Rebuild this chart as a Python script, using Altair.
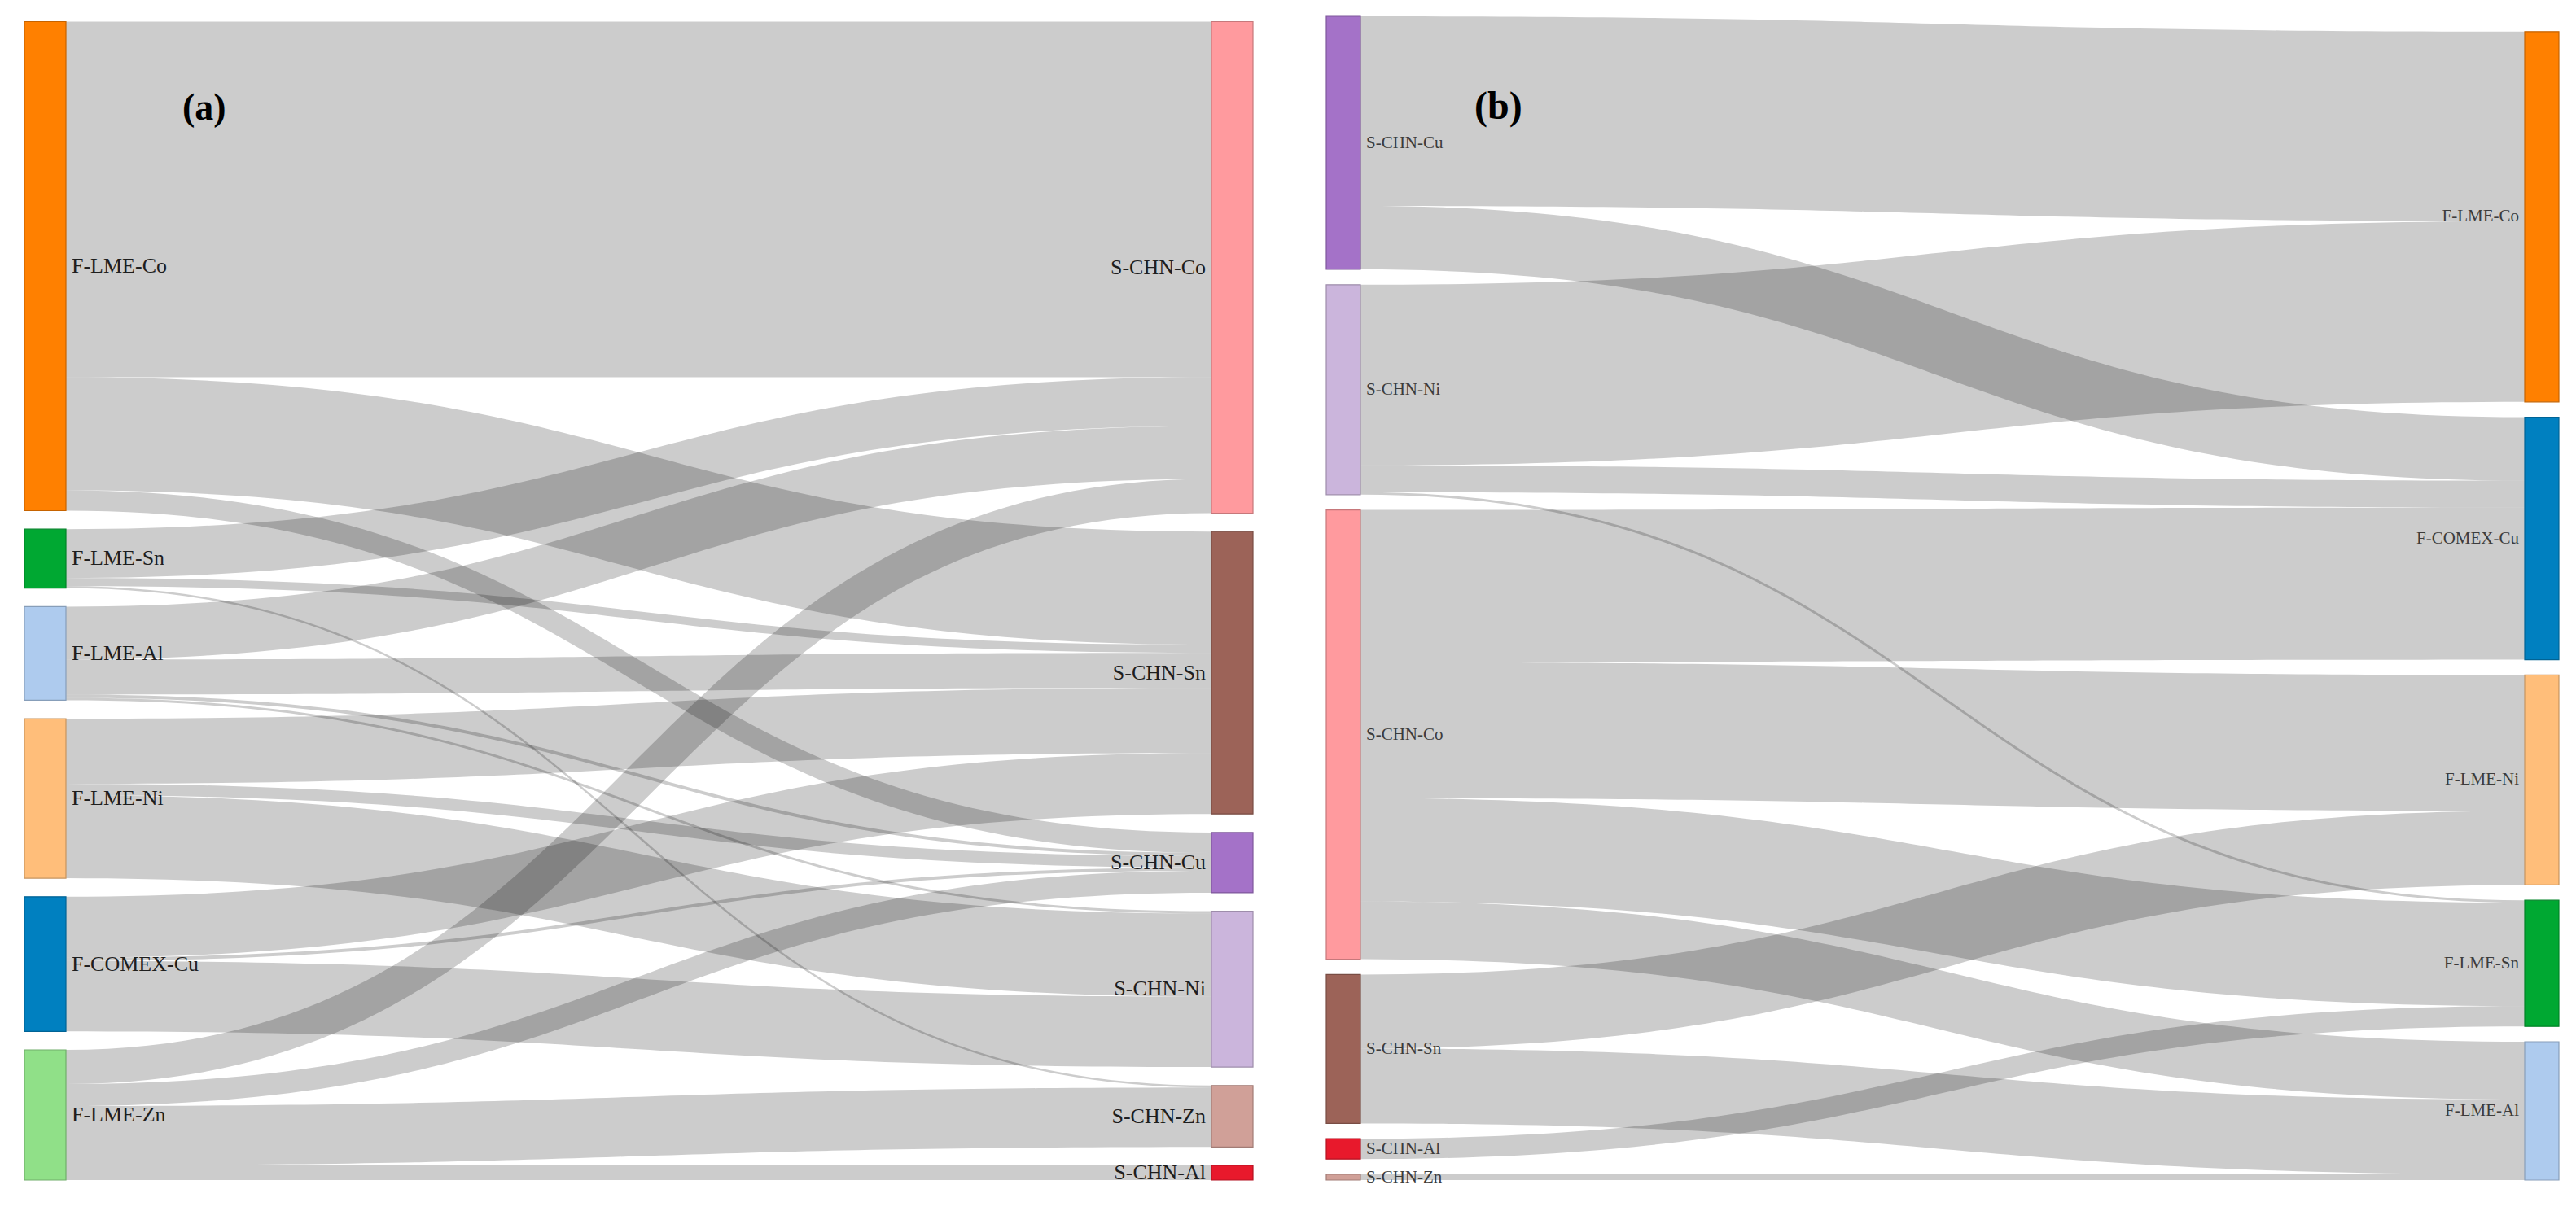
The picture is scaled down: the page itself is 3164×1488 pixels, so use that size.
import math
import altair as alt
import pandas as pd

# ---------------- data ----------------
# Panel (a): futures markets -> Chinese spot markets
A_LEFT = ["F-LME-Co", "F-LME-Sn", "F-LME-Al", "F-LME-Ni", "F-COMEX-Cu", "F-LME-Zn"]
A_RIGHT = ["S-CHN-Co", "S-CHN-Sn", "S-CHN-Cu", "S-CHN-Ni", "S-CHN-Zn", "S-CHN-Al"]
A_SRC = ["F-LME-Co", "F-LME-Co", "F-LME-Co",
         "F-LME-Sn", "F-LME-Sn", "F-LME-Sn",
         "F-LME-Al", "F-LME-Al", "F-LME-Al", "F-LME-Al",
         "F-LME-Ni", "F-LME-Ni", "F-LME-Ni",
         "F-COMEX-Cu", "F-COMEX-Cu", "F-COMEX-Cu",
         "F-LME-Zn", "F-LME-Zn", "F-LME-Zn", "F-LME-Zn"]
A_TGT = ["S-CHN-Co", "S-CHN-Sn", "S-CHN-Cu",
         "S-CHN-Co", "S-CHN-Sn", "S-CHN-Zn",
         "S-CHN-Co", "S-CHN-Sn", "S-CHN-Cu", "S-CHN-Ni",
         "S-CHN-Sn", "S-CHN-Cu", "S-CHN-Ni",
         "S-CHN-Sn", "S-CHN-Cu", "S-CHN-Ni",
         "S-CHN-Co", "S-CHN-Cu", "S-CHN-Zn", "S-CHN-Al"]
A_VAL = [437, 139, 25,
         60, 10, 2.5,
         65, 43, 4, 3,
         80, 14, 102,
         75, 4, 86.5,
         42, 27, 73, 18]

# Panel (b): Chinese spot markets -> futures markets
B_LEFT = ["S-CHN-Cu", "S-CHN-Ni", "S-CHN-Co", "S-CHN-Sn", "S-CHN-Al", "S-CHN-Zn"]
B_RIGHT = ["F-LME-Co", "F-COMEX-Cu", "F-LME-Ni", "F-LME-Sn", "F-LME-Al"]
B_SRC = ["S-CHN-Cu", "S-CHN-Cu",
         "S-CHN-Ni", "S-CHN-Ni", "S-CHN-Ni",
         "S-CHN-Co", "S-CHN-Co", "S-CHN-Co", "S-CHN-Co",
         "S-CHN-Sn", "S-CHN-Sn",
         "S-CHN-Al", "S-CHN-Zn"]
B_TGT = ["F-LME-Co", "F-COMEX-Cu",
         "F-LME-Co", "F-COMEX-Cu", "F-LME-Sn",
         "F-COMEX-Cu", "F-LME-Ni", "F-LME-Sn", "F-LME-Al",
         "F-LME-Ni", "F-LME-Al",
         "F-LME-Sn", "F-LME-Al"]
B_VAL = [233, 78,
         222, 33, 3,
         187, 167, 127, 71,
         91, 92,
         25, 7]

NODE_COLORS = {
    "F-LME-Co": "#ff8000", "F-LME-Sn": "#00a832", "F-LME-Al": "#aecbee",
    "F-LME-Ni": "#ffbe7a", "F-COMEX-Cu": "#0080c0", "F-LME-Zn": "#90e088",
    "S-CHN-Co": "#ff9a9e", "S-CHN-Sn": "#9c6358", "S-CHN-Cu": "#a472c8",
    "S-CHN-Ni": "#cbb5dc", "S-CHN-Zn": "#d0a098", "S-CHN-Al": "#e8192c",
}


def darker(hexcol, k=0.78):
    r, g, b = (int(hexcol[i:i + 2], 16) for i in (1, 3, 5))
    return "#%02x%02x%02x" % (int(r * k), int(g * k), int(b * k))


def sankey_tables(left, right, src, tgt, val, W, H, nw, gap):
    nodes = {}
    rows = []
    for col, names in ((0, left), (1, right)):
        vals = []
        for n in names:
            o = sum(v for s, v in zip(src, val) if s == n)
            i = sum(v for t, v in zip(tgt, val) if t == n)
            vals.append(max(o, i))
        total = sum(vals) + gap * (len(names) - 1)
        y = H - total
        for n, v in zip(names, vals):
            x0 = 0 if col == 0 else W - nw
            nodes[n] = dict(x0=x0, x1=x0 + nw, y0=y, y1=y + v, col=col)
            rows.append(dict(name=n, x0=x0, x1=x0 + nw, y0=y, y1=y + v,
                             ym=y + v / 2, col=col,
                             fill=NODE_COLORS[n], stroke=darker(NODE_COLORS[n])))
            y += v + gap
    links = [dict(k=k, s=s, t=t, v=v) for k, (s, t, v) in enumerate(zip(src, tgt, val))]
    for n in left:
        y = nodes[n]["y0"]
        for l in sorted([l for l in links if l["s"] == n], key=lambda l: nodes[l["t"]]["y0"]):
            l["ys"] = y + l["v"] / 2
            y += l["v"]
    for n in right:
        y = nodes[n]["y0"]
        for l in sorted([l for l in links if l["t"] == n], key=lambda l: nodes[l["s"]]["y0"]):
            l["yt"] = y + l["v"] / 2
            y += l["v"]
    pts = []
    xa, xb = nw, W - nw
    xm = (xa + xb) / 2
    N = 80
    for l in links:
        for i in range(N + 1):
            t = i / N
            a, b, c, d = (1 - t) ** 3, 3 * (1 - t) ** 2 * t, 3 * (1 - t) * t ** 2, t ** 3
            px = a * xa + b * xm + c * xm + d * xb
            py = (a + b) * l["ys"] + (c + d) * l["yt"]
            # slope of the centre line -> vertical half-thickness of a band of width v
            dx = 3 * (1 - t) ** 2 * (xm - xa) + 3 * t ** 2 * (xb - xm)
            dy = 6 * (1 - t) * t * (l["yt"] - l["ys"])
            half = l["v"] / 2 * math.sqrt(1 + (dy / dx) ** 2) if dx > 0 else l["v"] / 2
            pts.append(dict(link="L%02d" % l["k"], x=px, ytop=py - half, ybot=py + half))
    return pd.DataFrame(rows), pd.DataFrame(pts)


H = 1442
FONT = "Liberation Serif"


def panel(left, right, src, tgt, val, W, nw, gap, fsize, fcolor, tag, tag_x, tag_y, tag_size):
    nodes, pts = sankey_tables(left, right, src, tgt, val, W, H, nw, gap)
    xs = alt.Scale(domain=[0, W], nice=False, zero=False)
    ys = alt.Scale(domain=[0, H], nice=False, zero=False, reverse=True)

    links = alt.Chart(pts).mark_area(
        color="#000000", opacity=0.2, interpolate="linear"
    ).encode(
        x=alt.X("x:Q", scale=xs, axis=None),
        y=alt.Y("ytop:Q", scale=ys, axis=None, stack=None),
        y2="ybot:Q",
        detail="link:N",
    )
    rects = alt.Chart(nodes).mark_rect(strokeWidth=1.2).encode(
        x=alt.X("x0:Q", scale=xs, axis=None), x2="x1:Q",
        y=alt.Y("y0:Q", scale=ys, axis=None), y2="y1:Q",
        fill=alt.Fill("fill:N", scale=None),
        stroke=alt.Stroke("stroke:N", scale=None),
    )
    left_lab = alt.Chart(nodes[nodes["col"] == 0]).mark_text(
        align="left", baseline="middle", dx=7, font=FONT, fontSize=fsize, color=fcolor
    ).encode(x=alt.X("x1:Q", scale=xs, axis=None), y=alt.Y("ym:Q", scale=ys, axis=None), text="name:N")
    right_lab = alt.Chart(nodes[nodes["col"] == 1]).mark_text(
        align="right", baseline="middle", dx=-7, font=FONT, fontSize=fsize, color=fcolor
    ).encode(x=alt.X("x0:Q", scale=xs, axis=None), y=alt.Y("ym:Q", scale=ys, axis=None), text="name:N")
    tag_mark = alt.Chart(pd.DataFrame({"t": [tag]})).mark_text(
        align="left", baseline="middle", font=FONT, fontSize=tag_size, fontWeight="bold", color="#000000"
    ).encode(x=alt.value(tag_x), y=alt.value(tag_y), text="t:N")

    return alt.layer(links, rects, left_lab, right_lab, tag_mark).properties(width=W, height=H)


pa = panel(A_LEFT, A_RIGHT, A_SRC, A_TGT, A_VAL, 1509, 51, 22.7, 26, "#1e1e1e", "(a)", 194, 125, 46)
pb = panel(B_LEFT, B_RIGHT, B_SRC, B_TGT, B_VAL, 1514, 42, 18.8, 21, "#3c3c3c", "(b)", 182, 124, 48)

chart = alt.hconcat(pa, pb, spacing=90, bounds="flush").properties(
    padding={"left": 21, "top": 0, "right": 0, "bottom": 0}
).configure_view(stroke=None)

chart.save("out.html", embed_options={"renderer": "svg", "actions": False})
